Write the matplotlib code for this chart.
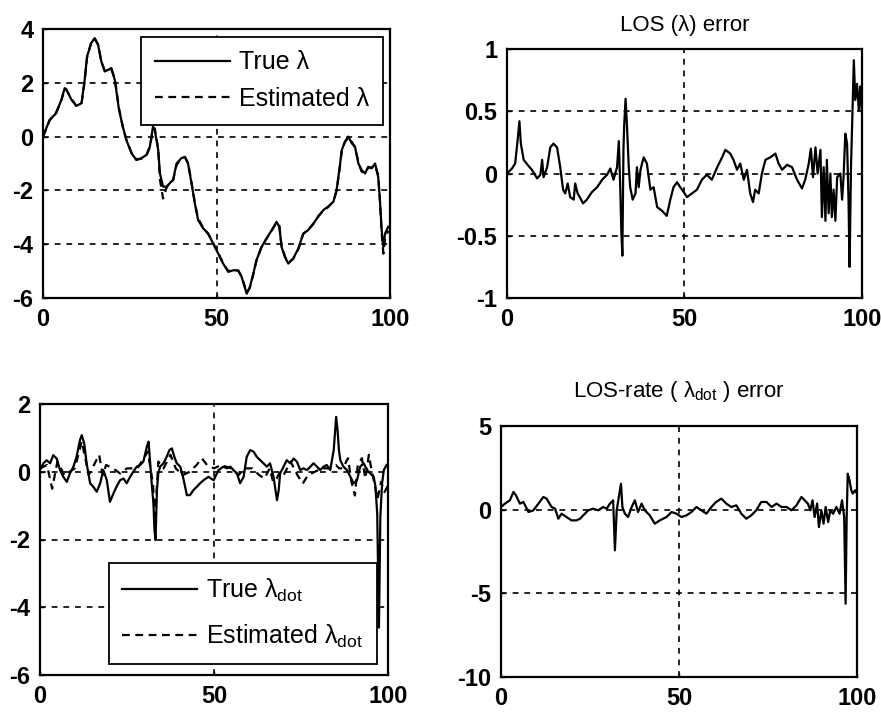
import matplotlib
matplotlib.use("Agg")
import matplotlib.pyplot as plt

plt.rcParams['font.family'] = ['Liberation Sans', 'DejaVu Sans']
plt.rcParams['mathtext.fontset'] = 'custom'
plt.rcParams['mathtext.rm'] = 'Liberation Sans'
plt.rcParams['mathtext.it'] = 'Liberation Sans'
plt.rcParams['axes.unicode_minus'] = False

# ---- Data: top-left (LOS angle) ----
t_los = [0, 1.9, 3.8, 5.3, 6.25, 6.7, 8.2, 9.6, 11.1, 12, 12.7, 13.9, 14.9, 15.9, 16.8, 17.8, 18.75, 19.7, 20.7, 21.9,
         23, 24, 25.5, 26.9, 28.4, 29.8, 30.8, 31.7, 32.2, 33.2, 33.7, 34.6, 35.6, 36.5, 37.5, 38.5, 39.9, 40.9, 41.8, 42.8,
         43.75, 44.7, 46.2, 47.6, 49, 50.5, 51.9, 53.4, 54.8, 56.25, 57.2, 58.7, 59.6, 60.6, 61.5, 63, 64.4, 65.9, 67.3, 68.1,
         68.75, 69.7, 70.7, 72.1, 73.6, 75, 76.4, 77.9, 79.3, 80.8, 82.2, 83.7, 84.6, 85.4, 86.1, 87, 88, 89, 89.9, 90.9,
         91.8, 92.8, 93.75, 94.7, 95.7, 96.6, 97.1, 97.6, 98.1, 98.6, 99.5]
los_true = [0, 0.62, 0.87, 1.37, 1.8, 1.76, 1.37, 1.14, 1.24, 2.1, 2.98, 3.48, 3.66, 3.4, 2.8, 2.42, 2.48, 2.55, 2.1, 1.0,
            0.37, -0.12, -0.62, -0.87, -0.8, -0.68, -0.37, 0.37, 0.25, -0.5, -1.37, -1.86, -1.86, -1.74, -1.6, -1.0, -0.8, -0.75, -1.0, -1.74,
            -2.48, -3.1, -3.42, -3.6, -3.97, -4.35, -4.72, -5.03, -4.97, -4.97, -5.2, -5.84, -5.6, -5.1, -4.6, -4.1, -3.79, -3.48, -3.17, -3.35,
            -4.1, -4.47, -4.72, -4.53, -4.16, -3.6, -3.48, -3.23, -2.98, -2.73, -2.6, -2.42, -1.99, -1.24, -0.5, -0.19, 0, -0.25, -0.37, -1.0,
            -1.24, -1.37, -1.12, -1.18, -1.0, -1.5, -2.36, -3.48, -4.1, -3.6, -3.35]
los_est = [0, 0.6, 0.9, 1.35, 1.78, 1.75, 1.4, 1.15, 1.22, 2.05, 2.95, 3.5, 3.64, 3.42, 2.78, 2.45, 2.46, 2.5, 2.15, 1.05,
           0.35, -0.1, -0.6, -0.85, -0.82, -0.7, -0.4, 0.3, 0.3, -0.45, -1.6, -2.3, -1.9, -1.72, -1.62, -1.05, -0.82, -0.77, -0.98, -1.7,
           -2.45, -3.05, -3.4, -3.62, -3.95, -4.33, -4.7, -5.0, -4.95, -4.99, -5.18, -5.8, -5.62, -5.12, -4.62, -4.08, -3.8, -3.5, -3.2, -3.3,
           -4.05, -4.45, -4.68, -4.55, -4.18, -3.62, -3.47, -3.25, -2.96, -2.75, -2.62, -2.4, -2.02, -1.28, -0.55, -0.2, -0.05, -0.2, -0.4, -0.95,
           -1.3, -1.35, -1.15, -1.15, -1.05, -1.45, -2.4, -3.6, -4.35, -3.8, -3.5]

# ---- Data: top-right (LOS error) ----
t_err = [0, 1.4, 2.3, 3.0, 3.5, 3.9, 4.7, 5.8, 7, 8.5, 9.4, 9.9, 10.3, 11.3, 12.2, 13.1, 14.1, 15, 15.8, 16.4,
         17.1, 17.8, 18.8, 19.2, 19.9, 20.7, 21.4, 22.5, 23.9, 25.4, 26.8, 28.2, 29.1, 30, 31, 31.5, 31.9, 32.2, 32.5, 32.8,
         33, 33.4, 33.8, 34.3, 34.7, 35.4, 36.2, 36.6, 37.1, 37.6, 38.5, 39.4, 40.4, 41.3, 42.3, 43.7, 45, 46, 46.9, 47.9,
         48.8, 49.8, 50.7, 52.1, 53.5, 54.9, 56.3, 57.7, 59.2, 60.6, 61.5, 62.9, 63.8, 64.8, 65.7, 66.7, 67.6, 68.5, 69.3, 69.9,
         70.9, 71.8, 72.8, 74.2, 75.6, 76.5, 77.5, 78.9, 80.3, 81.7, 83.1, 84, 85, 85.6, 86.2, 86.9, 87.5, 88.3, 88.7, 89.2,
         89.7, 90.1, 90.6, 91.1, 91.5, 92, 92.5, 93, 93.9, 94.4, 94.8, 95.3, 95.8, 96.2, 96.5, 96.9, 97.3, 97.7, 98.1, 98.6,
         99.1, 99.5, 100]
los_err = [0, 0.04, 0.08, 0.27, 0.42, 0.24, 0.11, 0.07, 0.03, -0.04, -0.01, 0.11, -0.03, 0.05, 0.21, 0.24, 0.21, 0.05, -0.13, -0.16,
           -0.08, -0.19, -0.21, -0.08, -0.16, -0.2, -0.24, -0.21, -0.15, -0.11, -0.05, -0.01, 0.04, -0.05, 0.05, 0.26, -0.11, -0.46, -0.66, 0.19,
           0.38, 0.6, 0.38, 0.05, -0.11, -0.21, -0.16, 0.05, -0.11, 0.03, 0.13, 0.08, -0.13, -0.11, -0.27, -0.3, -0.34, -0.21, -0.11, -0.07,
           -0.11, -0.15, -0.19, -0.16, -0.13, -0.05, -0.01, -0.05, 0.05, 0.13, 0.19, 0.16, 0.11, 0.03, 0.08, -0.05, 0.03, -0.16, -0.23, -0.13,
           -0.16, 0, 0.11, 0.13, 0.16, 0.08, 0.03, 0.07, 0.05, -0.05, -0.12, -0.05, 0.08, 0.2, -0.03, 0.21, 0, 0.19, -0.35, 0.05,
           -0.38, 0.11, -0.32, 0, -0.35, -0.13, -0.38, -0.03, 0, -0.21, -0.03, 0.32, 0.24, -0.21, -0.75, 0.05, 0.48, 0.91, 0.59, 0.72,
           0.51, 0.7, 0.48]

# ---- Data: bottom-left (LOS rate) ----
t_rate = [0, 1, 1.9, 2.9, 3.8, 4.8, 5.75, 6.7, 7.7, 8.6, 9.6, 10.5, 11.5, 12, 12.7, 13.4, 14.4, 15.3, 16.3, 17.3,
          18.2, 19.2, 20.1, 21.1, 22, 23, 24, 24.9, 25.9, 26.8, 27.8, 28.8, 29.7, 30.7, 31.2, 31.6, 32.1, 32.6, 32.9, 33.2,
          33.6, 34, 34.5, 35.5, 36.4, 37.2, 37.9, 38.6, 39.3, 40.3, 41.2, 42.2, 43.1, 44.1, 45.1, 46, 47, 48.4, 49.9, 51.3,
          52.7, 53.7, 54.7, 55.6, 56.6, 57.5, 58.5, 59.4, 60.4, 61.4, 62.3, 63.3, 64.2, 65.2, 66.1, 67.1, 68.1, 68.6, 69, 70,
          70.9, 71.9, 72.9, 73.8, 74.8, 75.7, 76.7, 77.7, 78.6, 79.6, 80.5, 81.5, 82.4, 83.4, 84.4, 85.1, 85.5, 85.9, 86.3, 87.2,
          88.2, 89.2, 90.1, 91.1, 92, 93, 94, 94.9, 95.9, 96.4, 96.9, 97.4, 97.8, 98.3, 98.8, 99.6]
rate_true = [0.05, 0.25, 0.34, 0.25, 0.49, 0.39, 0.05, -0.15, -0.3, -0.05, 0.15, 0.44, 0.94, 1.08, 0.84, 0.25, -0.34, -0.44, -0.59, -0.34,
             0.05, -0.25, -0.89, -0.64, -0.44, -0.25, -0.2, -0.34, -0.15, 0, 0.15, 0.2, 0.3, 0.74, 0.89, 0.34, -0.34, -0.94, -1.72, -2.02,
             -0.54, -0.05, 0.15, 0.25, 0.44, 0.64, 0.69, 0.44, 0.25, 0.15, -0.2, -0.69, -0.69, -0.54, -0.44, -0.34, -0.25, -0.15, -0.25, 0.05,
             0.15, 0.1, 0.15, 0.05, -0.05, -0.34, -0.15, 0.44, 0.64, 0.59, 0.44, 0.34, 0.25, 0.15, 0.25, -0.15, -0.84, -0.54, -0.05, 0.15,
             0.34, 0.25, 0.39, 0.3, 0.05, 0.1, 0.05, 0.15, 0.25, 0.15, 0.05, 0.15, 0.2, 0.05, 0.64, 1.62, 1.23, 0.64, 0.34, 0.15,
             0.05, -0.15, -0.34, -0.25, 0.15, 0.25, 0.05, -0.05, -0.15, -0.44, -1.23, -4.6, -1.33, -0.34, 0.05, 0.2]
t_rate_est = [0, 2, 3.5, 5, 7, 10, 12, 14, 16, 17, 18, 19, 21, 23, 25, 28, 31, 32.5, 33, 33.5,
              34, 35.5, 37.5, 39, 41, 43, 45, 46.5, 48, 50, 52, 55, 57, 59, 61, 63, 64.5, 66, 67, 68,
              69, 70, 72, 74, 75.5, 77, 79, 81, 83, 85, 86, 87, 88.5, 89.5, 90.5, 91.3, 92.5, 93.5, 94.5, 95,
              96, 97, 98, 99, 100]
rate_est = [0.1, 0.2, -0.5, 0.3, -0.1, 0.1, 0.9, -0.1, 0.3, 0.5, -0.1, 0.2, 0.1, -0.05, 0.1, 0.1, 0.6, -0.4, -1.5, -0.6,
            0.3, 0.1, 0.5, 0.1, -0.1, 0.0, 0.2, 0.4, 0.2, 0.1, 0.2, 0.1, -0.1, 0.1, 0.1, -0.1, -0.2, 0.1, -0.3, -0.2,
            0.0, -0.1, 0.3, -0.1, -0.35, -0.1, 0.0, 0.1, 0.1, 0.2, 0.1, 0.1, 0.4, -0.3, -0.7, 0.2, 0.4, -0.2, 0.5, 0.2,
            -0.3, -0.8, -0.3, -0.6, -0.4]

# ---- Data: bottom-right (LOS rate error) ----
t_rerr = [0, 1.1, 2.5, 3.5, 4.2, 5.3, 6.3, 7.7, 9.1, 10.5, 11.9, 12.8, 14.2, 15.2, 16.1, 17, 18.4, 19.8, 21.2, 22.2,
          23.1, 24.5, 25.9, 27.3, 28.7, 29.7, 30.6, 31.5, 32, 32.5, 33.1, 33.7, 34.1, 34.8, 35.7, 36.7, 37.6, 38.5, 39.5, 40.4,
          41.8, 43.2, 44.6, 46.5, 47.9, 49.3, 50.7, 52.1, 53.5, 54.9, 56.3, 57.7, 59.1, 60.4, 61.9, 63.3, 64.7, 66.1, 67.5, 68.9,
          70.3, 71.7, 73.1, 74.6, 76, 77.4, 78.8, 80.2, 81.6, 83, 84.4, 85.3, 86.2, 86.9, 87.5, 88.1, 88.8, 89.3, 90, 90.6,
          91.2, 91.9, 92.5, 93.3, 94.2, 95.1, 95.8, 96.4, 96.8, 97.1, 97.4, 97.9, 98.4, 98.8, 99.5, 100]
rate_err = [0.16, 0.36, 0.56, 1.06, 0.86, 0.36, 0.46, -0.14, -0.04, 0.36, 0.76, 0.66, 0.16, 0.06, -0.54, -0.24, -0.44, -0.64, -0.64, -0.54,
            -0.34, -0.04, 0.06, -0.04, 0.16, 0.06, 0.36, 0.56, -2.43, -0.04, 0.76, 1.55, 0.16, -0.24, -0.44, 0.16, 0.56, -0.14, 0.36, -0.04,
            -0.34, -0.84, -0.64, -0.44, -0.14, -0.24, -0.44, -0.34, -0.14, 0.16, -0.04, -0.24, 0.16, 0.46, 0.66, 0.36, 0.16, 0.26, -0.24, -0.54,
            -0.34, -0.04, 0.46, 0.46, 0.16, 0.36, 0.16, 0.16, -0.04, 0.26, 0.76, 0.56, 0.36, -0.04, 0.56, -0.44, 0.36, -1.04, -0.04, -0.84,
            0.16, -0.74, -0.04, -0.24, 0.16, -0.24, 0.56, -0.44, -5.62, -0.44, 2.15, 1.75, 1.16, 0.96, 1.16, 0.96]

x_ticks = [0, 50, 100]

fig = plt.figure(figsize=(8.81, 7.14), dpi=100)
W, H = 881.0, 714.0


def make_ax(l, t, r, b):
    return fig.add_axes([l / W, 1 - b / H, (r - l) / W, (b - t) / H])


ax1 = make_ax(43, 29, 390, 298)
ax2 = make_ax(507, 49, 862, 298)
ax3 = make_ax(40, 404, 388, 675)
ax4 = make_ax(501, 426, 857, 677)

dash_grid = (0, (3.5, 3.5))
dash_est = (0, (3.5, 2.5))
LW = 1.6

for ax in (ax1, ax2, ax3, ax4):
    ax.set_xlim(0, 100)
    ax.set_xticks(x_ticks)
    ax.grid(True, color='black', linestyle=dash_grid, linewidth=1.2)
    ax.tick_params(direction='in', length=3, labelsize=17, pad=7, width=1)
    for lab in ax.get_xticklabels() + ax.get_yticklabels():
        lab.set_fontweight('bold')
    for s in ax.spines.values():
        s.set_linewidth(1.6)

# Top-left
ax1.plot(t_los, los_true, color='black', lw=LW, label='True λ')
ax1.plot(t_los, los_est, color='black', lw=LW, linestyle=dash_est, label='Estimated λ')
ax1.set_ylim(-6, 4)
ax1.set_yticks([-6, -4, -2, 0, 2, 4])
leg1 = ax1.legend(loc='upper right', fontsize=18, handlelength=3.0, handletextpad=0.35,
                  borderaxespad=0.3, fancybox=False, framealpha=1, edgecolor='black',
                  labelspacing=0.5, borderpad=0.55)
leg1.get_frame().set_linewidth(1.3)

# Top-right
ax2.plot(t_err, los_err, color='black', lw=LW)
ax2.set_ylim(-1, 1)
ax2.set_yticks([-1, -0.5, 0, 0.5, 1])
ax2.set_yticklabels(['-1', '-0.5', '0', '0.5', '1'])
ax2.set_title('LOS (λ) error', fontsize=16, pad=13)

# Bottom-left
ax3.plot(t_rate, rate_true, color='black', lw=LW, label=r'True $\lambda_{\mathrm{dot}}$')
ax3.plot(t_rate_est, rate_est, color='black', lw=LW, linestyle=dash_est, label=r'Estimated $\lambda_{\mathrm{dot}}$')
ax3.set_ylim(-6, 2)
ax3.set_yticks([-6, -4, -2, 0, 2])
leg3 = ax3.legend(loc='lower right', fontsize=18, handlelength=3.0, handletextpad=0.35,
                  borderaxespad=0.45, fancybox=False, framealpha=1, edgecolor='black',
                  labelspacing=0.75, borderpad=0.55)
leg3.get_frame().set_linewidth(1.3)

# Bottom-right
ax4.plot(t_rerr, rate_err, color='black', lw=LW)
ax4.set_ylim(-10, 5)
ax4.set_yticks([-10, -5, 0, 5])
ax4.set_title(r'LOS-rate ( $\lambda_{\mathrm{dot}}$ ) error', fontsize=16, pad=21)

fig.savefig('out.png', dpi=100)
